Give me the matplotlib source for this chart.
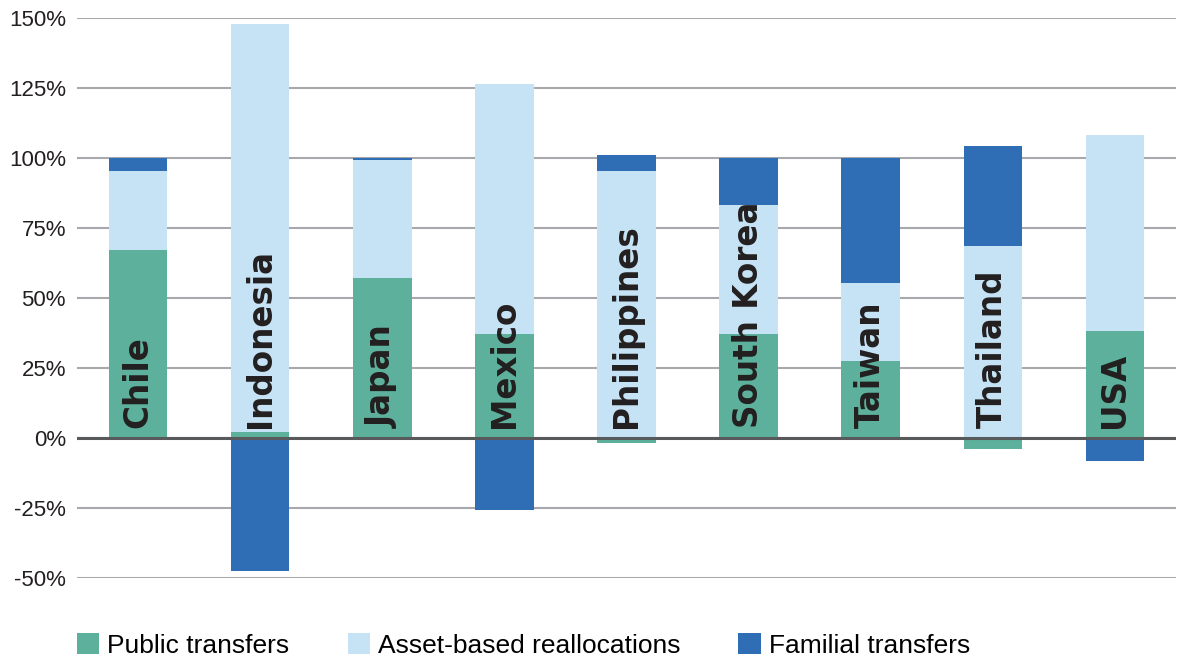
import matplotlib
matplotlib.use("Agg")
from matplotlib import pyplot as plt
import numpy as np

countries = ["Chile", "Indonesia", "Japan", "Mexico", "Philippines",
             "South Korea", "Taiwan", "Thailand", "USA"]
public = [67.1, 2.1, 57.1, 37.1, -1.8, 37.1, 27.5, -3.9, 38.2]
asset = [28.3, 145.8, 42.2, 89.3, 95.4, 46.1, 27.9, 68.6, 70.0]
familial = [4.6, -47.5, 0.7, -25.7, 5.7, 16.8, 44.6, 35.7, -8.2]

series = [("Public transfers", public, "#5DB19C"),
          ("Asset-based reallocations", asset, "#C5E3F4"),
          ("Familial transfers", familial, "#2F6EB5")]

plt.rcParams["font.family"] = ["Liberation Sans", "DejaVu Sans"]

fig = plt.figure(figsize=(11.86, 6.58), dpi=100)
ax = fig.add_axes([77 / 1186, 1 - 578 / 658, 1099 / 1186, 560 / 658])

x = np.arange(len(countries))
pos_base = np.zeros(len(countries))
neg_base = np.zeros(len(countries))
for name, vals, col in series:
    vals = np.array(vals)
    bottom = np.where(vals >= 0, pos_base, neg_base)
    ax.bar(x, vals, 0.48, bottom=bottom, color=col, label=name, zorder=2)
    pos_base += np.where(vals >= 0, vals, 0)
    neg_base += np.where(vals < 0, vals, 0)

for i, c in enumerate(countries):
    ax.text(i, 3.6, c, rotation=90, ha="center", va="bottom",
            fontsize=23.5, fontweight="bold", family="DejaVu Sans",
            color="#231F20", zorder=3)

ax.set_xlim(-0.5, len(countries) - 0.5)
ax.set_ylim(-50, 150)
ticks = np.arange(-50, 151, 25)
ax.set_yticks(ticks)
ax.set_yticklabels([f"{t}%" for t in ticks], fontsize=16, color="#231F20")
ax.set_xticks([])
ax.tick_params(axis="y", length=0, pad=8)
for s in ax.spines.values():
    s.set_visible(False)
ax.grid(axis="y", color="#A7A9AC", linewidth=1.5, zorder=0)
ax.axhline(0, color="#58595B", linewidth=2.2, zorder=4)

ax.legend(loc="upper left", bbox_to_anchor=(0, -0.098), ncol=3, frameon=False,
          fontsize=19, handlelength=0.85, handleheight=0.85, handletextpad=0.3,
          columnspacing=2.2, borderaxespad=0, borderpad=0)

fig.savefig("out.png", dpi=100)
